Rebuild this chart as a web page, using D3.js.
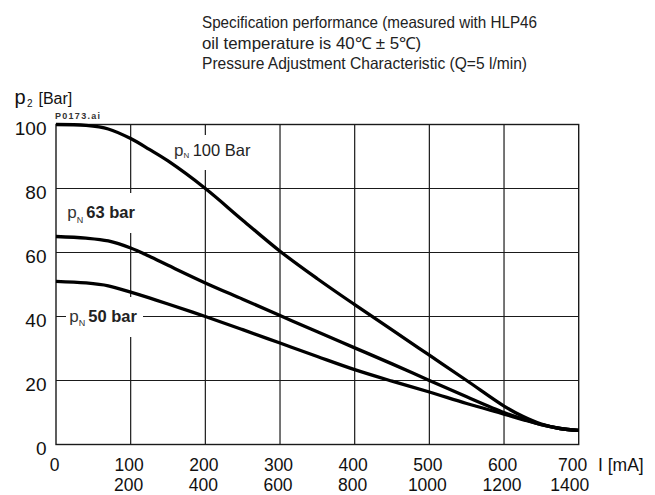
<!DOCTYPE html>
<html><head><meta charset="utf-8">
<script src="https://cdn.jsdelivr.net/npm/d3@7"></script>
<style>body{margin:0;background:#fff} svg{display:block}</style>
</head><body><svg id="c" width="655" height="495"></svg>
<script>
const titleLines = [
  "Specification performance (measured with HLP46",
  "oil temperature is 40\u2103 \u00b1 5\u2103)",
  "Pressure Adjustment Characteristic (Q=5 l/min)"
];
const currents = [0, 40, 70, 100, 125, 150, 200, 250, 300, 350, 400, 450, 500, 550, 600, 625, 650, 675, 700];
const p100 = [100, 99.7, 98.6, 95.6, 92.2, 88.6, 80, 70.1, 60.4, 51.8, 43.7, 35.8, 27.9, 20, 12, 8.8, 6.4, 5, 4.4];
const p63  = [65, 64.5, 63.6, 61.4, 58.8, 56, 50.5, 45.4, 40.3, 35.2, 30.2, 25.2, 20, 14.9, 10, 8, 6.2, 5, 4.4];
const p50  = [51, 50.5, 49.6, 47.6, 45.8, 43.9, 40, 35.9, 31.7, 27.5, 23.4, 19.8, 16.4, 12.8, 9.5, 7.8, 6.2, 5, 4.4];
const seriesNames = ["100 Bar", "63 bar", "50 bar"];
const xTicks = [0, 100, 200, 300, 400, 500, 600, 700];
const xTicks2 = ["", "200", "400", "600", "800", "1000", "1200", "1400"];
const yTicks = [0, 20, 40, 60, 80, 100];

const svg = d3.select("#c");
const FONT = "'Liberation Sans', Arial, sans-serif";
const x = d3.scaleLinear().domain([0, 700]).range([56, 578.7]);
const y = d3.scaleLinear().domain([0, 100]).range([444.5, 124.5]);

// title
const titleWidths = [335, 219, 325];
svg.append("g").selectAll("text").data(titleLines).join("text")
  .attr("x", 202).attr("y", (d, i) => 28 + i * 20.5)
  .attr("font-family", FONT).attr("font-size", 16.5).attr("fill", "#222")
  .attr("textLength", (d, i) => titleWidths[i]).attr("lengthAdjust", "spacingAndGlyphs")
  .text(d => d);

// grid
const g = svg.append("g").attr("stroke", "#1a1a1a").attr("stroke-width", 1.2).attr("fill", "none");
g.selectAll(".v").data(xTicks.slice(1, -1)).join("line")
  .attr("x1", d => x(d)).attr("x2", d => x(d)).attr("y1", y(100)).attr("y2", y(0));
g.selectAll(".h").data(yTicks.slice(1, -1)).join("line")
  .attr("x1", x(0)).attr("x2", x(700)).attr("y1", d => y(d)).attr("y2", d => y(d));
g.append("rect").attr("x", x(0)).attr("y", y(100)).attr("width", x(700) - x(0)).attr("height", y(0) - y(100))
  .attr("stroke-width", 1.4);

// label backgrounds
const boxes = [[170, 135, 86, 35], [64, 193, 76, 40], [66, 297, 77, 40]];
svg.append("g").selectAll("rect").data(boxes).join("rect")
  .attr("x", d => d[0]).attr("y", d => d[1]).attr("width", d => d[2]).attr("height", d => d[3])
  .attr("fill", "#fff");

// curves
const line = d3.line().x((d, i) => x(currents[i])).y(d => y(d)).curve(d3.curveCatmullRom.alpha(0.5));
svg.append("g").selectAll("path").data([p100, p63, p50]).join("path")
  .attr("d", d => line(d)).attr("fill", "none").attr("stroke", "#000")
  .attr("stroke-width", 3.3).attr("stroke-linejoin", "round");

// series labels
function seriesLabel(px, base, name, bold, size) {
  const t = svg.append("g").attr("font-family", FONT).attr("fill", "#222");
  t.append("text").attr("x", px).attr("y", base).attr("font-size", 17).attr("fill", "#333").text("p");
  t.append("text").attr("x", px + 9.5).attr("y", base + (bold ? 4.5 : 1.5)).attr("font-size", bold ? 9 : 8).attr("fill", "#333").text("N");
  t.append("text").attr("x", px + (bold ? 19 : 18.7)).attr("y", base).attr("font-size", size)
    .attr("font-weight", bold ? "bold" : "normal").text(name);
}
seriesLabel(174, 156, seriesNames[0], false, 16.5);
seriesLabel(67.3, 218.3, seriesNames[1], true, 16.5);
seriesLabel(69.3, 321.5, seriesNames[2], true, 16.5);

// y axis labels
const yAxis = d3.axisLeft(y).tickValues(yTicks).tickSize(0).tickPadding(0);
const ya = svg.append("g").attr("transform", "translate(46.5,0)").call(yAxis);
ya.select(".domain").remove();
ya.selectAll("text").attr("font-family", FONT).attr("font-size", 19).attr("fill", "#111")
  .attr("dy", null).attr("y", 9.5).attr("x", 0);

// x axis labels
const xa = svg.append("g").attr("font-family", FONT).attr("font-size", 17.5).attr("fill", "#111").attr("text-anchor", "middle");
xa.selectAll(".r1").data(xTicks).join("text")
  .attr("x", (d, i) => x(d) + (i === xTicks.length - 1 ? -6 : -1.5)).attr("y", 471).text(d => d);
xa.selectAll(".r2").data(xTicks2).join("text")
  .attr("x", (d, i) => x(xTicks[i]) + (i === xTicks.length - 1 ? -9 : -2)).attr("y", 491).text(d => d);
svg.append("text").attr("x", 598).attr("y", 471).attr("font-family", FONT).attr("font-size", 17.5)
  .attr("fill", "#111").text("I [mA]");

// y axis title
const yt = svg.append("g").attr("font-family", FONT).attr("fill", "#111");
yt.append("text").attr("x", 14.5).attr("y", 104).attr("font-size", 20).text("p");
yt.append("text").attr("x", 27).attr("y", 106.5).attr("font-size", 10).text("2");
yt.append("text").attr("x", 38.5).attr("y", 104).attr("font-size", 16).text("[Bar]");

// file tag
svg.append("text").attr("x", 55).attr("y", 119).attr("font-family", FONT).attr("font-size", 9)
  .attr("font-weight", "bold").attr("fill", "#333").attr("textLength", 45).text("P0173.ai");
</script></body></html>
